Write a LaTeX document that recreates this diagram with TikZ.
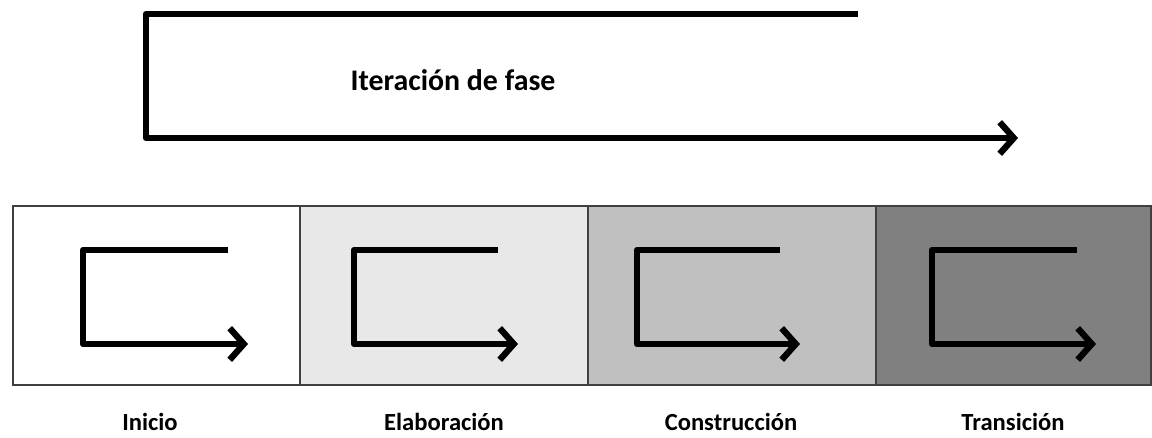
\documentclass[tikz,border=0pt]{standalone}
\usepackage{fontspec}
\setmainfont{Carlito}
\usepackage{tikz}
\usetikzlibrary{shapes,arrows,arrows.meta,positioning}

\definecolor{faseA}{HTML}{FFFFFF}
\definecolor{faseB}{HTML}{E8E8E8}
\definecolor{faseC}{HTML}{C0C0C0}
\definecolor{faseD}{HTML}{808080}

\tikzset{
	fasebox/.style={draw=black!75,line width=1pt,minimum height=179*0.02cm,inner sep=0pt,anchor=north west},
	ciclo/.style={line width=3.6pt,line join=round,-{Straight Barb[length=8pt,width=18pt,line width=3.6pt]}},
	etiqueta/.style={font=\bfseries\fontsize{14}{16}\selectfont}
}

\begin{document}
\begin{tikzpicture}[x=0.02cm,y=-0.02cm]
	\useasboundingbox (0,0) rectangle (1152,438);
	% la iteracion de fase
	\draw[ciclo] (858,14) -- (146,14) -- (146,138) -- (1018,138);
	\node[font=\bfseries\fontsize{17}{20}\selectfont] (iter) at (453,80) {Iteración de fase};
	%% las cuatro fases
	\node[fasebox,fill=faseA,minimum width=287*0.02cm] (inicio) at (12,205) {};
	\node[fasebox,fill=faseB,minimum width=288*0.02cm] (elab) at (299,205) {};
	\node[fasebox,fill=faseC,minimum width=288*0.02cm] (cons) at (587,205) {};
	\node[fasebox,fill=faseD,minimum width=275*0.02cm] (trans) at (875,205) {};
	%% las flechas de cada fase
	\draw[ciclo] (228,250) -- (83,250) -- (83,344) -- (248,344);
	\draw[ciclo] (498,250) -- (354,250) -- (354,344) -- (518,344);
	\draw[ciclo] (780,250) -- (637,250) -- (637,344) -- (800,344);
	\draw[ciclo] (1077,250) -- (932,250) -- (932,344) -- (1096,344);
	%% los nombres
	\node[etiqueta] (nInicio) at (150,422) {Inicio};
	\node[etiqueta] (nElab) at (444,422) {Elaboración};
	\node[etiqueta] (nCons) at (731,422) {Construcción};
	\node[etiqueta] (nTrans) at (1013,422) {Transición};
\end{tikzpicture}
\end{document}
